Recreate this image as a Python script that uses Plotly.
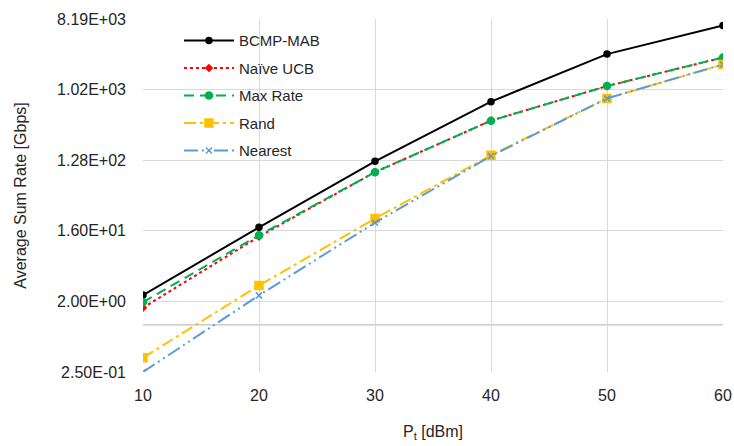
import plotly.graph_objects as go

pt = [10, 20, 30, 40, 50, 60]
bcmp = [2.41, 17.7, 124, 718, 2915, 6780]
naive = [1.66, 13.5, 90, 410, 1136, 2640]
maxrate = [1.96, 14.0, 90, 410, 1136, 2640]
rand = [0.38, 3.2, 23, 148, 790, 2150]
nearest = [0.25, 2.39, 20.3, 145, 790, 2150]

ytick_vals = [0.25, 2, 16, 128, 1024, 8192]
ytick_text = ["2.50E-01", "2.00E+00", "1.60E+01", "1.28E+02", "1.02E+03", "8.19E+03"]
xtick_vals = [10, 20, 30, 40, 50, 60]

FONT = "Liberation Sans"
GRID = "#D9D9D9"

fig = go.Figure()
series = [
    ("BCMP-MAB", bcmp, "#000000", "solid", "circle", 6),
    ("Naïve UCB", naive, "#FF0000", "dot", "diamond", 5),
    ("Max Rate", maxrate, "#00B050", "10px,6px", "circle", 7),
    ("Rand", rand, "#FFC000", "12px,4px,3px,4px", "square", 8),
    ("Nearest", nearest, "#5B9BD5", "14px,4px,2px,4px,2px,4px", "x-thin-open", 6),
]
for i, (name, ys, col, dash, sym, sz) in enumerate(series):
    fig.add_trace(go.Scatter(
        x=pt, y=ys, name=name, mode="lines+markers",
        legendgroup=f"g{i}",
        line=dict(color=col, width=2, dash=dash),
        marker=dict(symbol=sym, size=sz, color=col, line=dict(color=col, width=1.5)),
    ))

fig.add_shape(type="line", xref="paper", x0=0, x1=1, yref="y", y0=1, y1=1,
              line=dict(color="#BFBFBF", width=1.2), layer="below")

fig.update_layout(
    width=734, height=446,
    margin=dict(l=143, r=11, t=19, b=74),
    paper_bgcolor="white", plot_bgcolor="white",
    font=dict(family=FONT, size=15, color="#262626"),
    showlegend=True,
    legend=dict(x=0.062, y=0.985, xanchor="left", yanchor="top",
                bgcolor="rgba(255,255,255,0)", font=dict(size=15, color="#262626"),
                tracegroupgap=5, itemwidth=50),
    xaxis=dict(range=[10, 60], tickvals=xtick_vals, showgrid=True, gridcolor=GRID,
               gridwidth=1.2, zeroline=False, showline=False, ticks="",
               automargin=False, ticklabelstandoff=12, tickfont=dict(size=16),
               title=dict(text="P<sub>t</sub> [dBm]", font=dict(size=16), standoff=22)),
    yaxis=dict(type="log", range=[-0.60206, 3.91339], tickvals=ytick_vals,
               ticktext=ytick_text, showgrid=True, gridcolor=GRID, gridwidth=1.2,
               zeroline=False, showline=False, ticks="",
               automargin=False, ticklabelstandoff=16, tickfont=dict(size=16),
               title=dict(text="Average Sum Rate [Gbps]", font=dict(size=16), standoff=26)),
)

fig.write_html("out.html", config={"displayModeBar": False},
               post_script="document.body.style.margin='0';document.body.style.overflow='hidden';")
